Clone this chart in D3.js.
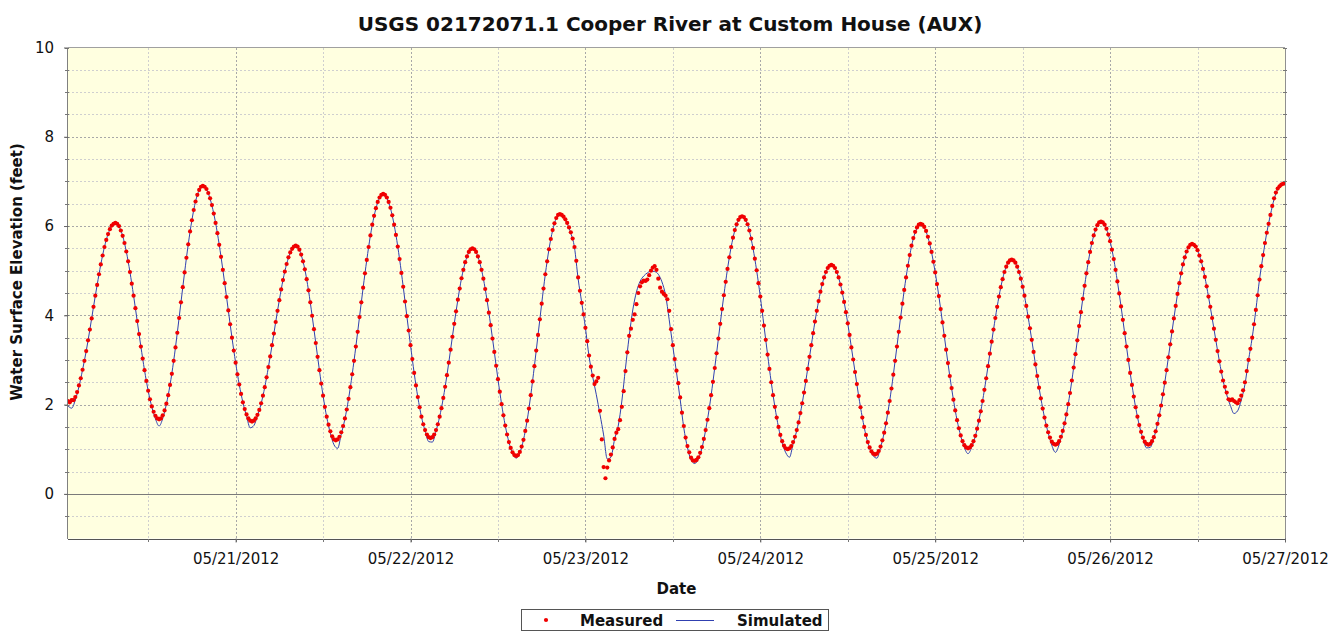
<!DOCTYPE html>
<html>

<head>
	<meta charset="UTF-8" />
	<title>USGS 02172071.1 Cooper River at Custom House (AUX)</title>
	<script src="https://d3js.org/d3.v7.min.js"></script>
	<style>
		body {
			margin: 0;
			background: #fff;
		}

		svg text {
			font-family: "DejaVu Sans", Verdana, sans-serif;
			fill: #111;
		}

		.axis text {
			font-size: 15px;
		}

		.axis line {
			stroke: #666;
		}
	</style>
</head>

<body>
	<div id="main"></div>

	<script type="text/javascript">
		// measured stage (feet), one reading every 15 minutes, first one at 05/20/2012 01:00
		var meas0520 = [2.08, 2.05, 2.10, 2.10, 2.17, 2.28, 2.43, 2.59, 2.78, 2.98,
			3.20, 3.44, 3.68, 3.93, 4.19, 4.44, 4.68, 4.92, 5.14, 5.34,
			5.53, 5.69, 5.82, 5.93, 6.01, 6.05, 6.07, 6.05, 6.00, 5.90,
			5.78, 5.62, 5.43, 5.21, 4.97, 4.71, 4.44, 4.16, 3.87, 3.58,
			3.30, 3.03, 2.77, 2.53, 2.31, 2.12, 1.96, 1.84, 1.75, 1.69,
			1.67, 1.69, 1.76, 1.87, 2.02, 2.21, 2.44, 2.69, 2.98, 3.28,
			3.61, 3.94, 4.29, 4.63, 4.96, 5.29, 5.59, 5.88, 6.13, 6.36,
			6.55, 6.70, 6.81, 6.88, 6.90, 6.88, 6.83, 6.74, 6.62, 6.47,
			6.28, 6.07, 5.84, 5.58, 5.31, 5.02, 4.72, 4.41, 4.11, 3.80,
			3.50, 3.21];
		var meas0521 = [2.94, 2.68, 2.45, 2.24, 2.05, 1.90, 1.78, 1.69, 1.64, 1.62,
			1.64, 1.69, 1.77, 1.88, 2.03, 2.20, 2.39, 2.61, 2.84, 3.08,
			3.33, 3.59, 3.85, 4.10, 4.34, 4.58, 4.79, 4.98, 5.15, 5.30,
			5.41, 5.49, 5.54, 5.56, 5.54, 5.47, 5.36, 5.21, 5.03, 4.81,
			4.56, 4.29, 3.99, 3.69, 3.38, 3.07, 2.77, 2.47, 2.20, 1.95,
			1.73, 1.55, 1.40, 1.29, 1.22, 1.20, 1.22, 1.28, 1.38, 1.52,
			1.69, 1.89, 2.13, 2.39, 2.68, 2.98, 3.30, 3.63, 3.96, 4.29,
			4.62, 4.94, 5.24, 5.53, 5.79, 6.03, 6.23, 6.40, 6.54, 6.64,
			6.70, 6.72, 6.70, 6.64, 6.54, 6.41, 6.24, 6.03, 5.80, 5.54,
			5.26, 4.95, 4.64, 4.31, 3.98, 3.66];
		var meas0522 = [3.33, 3.02, 2.71, 2.43, 2.17, 1.94, 1.73, 1.56, 1.43, 1.33,
			1.27, 1.25, 1.27, 1.33, 1.43, 1.56, 1.73, 1.92, 2.15, 2.40,
			2.66, 2.94, 3.23, 3.52, 3.81, 4.09, 4.35, 4.60, 4.83, 5.02,
			5.19, 5.32, 5.42, 5.48, 5.50, 5.48, 5.42, 5.32, 5.19, 5.02,
			4.82, 4.59, 4.34, 4.06, 3.78, 3.48, 3.18, 2.87, 2.57, 2.29,
			2.01, 1.76, 1.53, 1.33, 1.16, 1.03, 0.93, 0.87, 0.85, 0.87,
			0.94, 1.06, 1.21, 1.41, 1.64, 1.91, 2.21, 2.52, 2.86, 3.21,
			3.56, 3.91, 4.26, 4.60, 4.92, 5.21, 5.48, 5.71, 5.91, 6.06,
			6.18, 6.25, 6.27, 6.25, 6.21, 6.15, 6.07, 5.97, 5.86, 5.72,
			5.53, 5.22, 4.85, 4.55, 4.28, 4.02];
		var meas0523 = [3.72, 3.42, 3.10, 2.85, 2.65, 2.46, 2.52, 2.60, 1.86, 1.22,
			0.60, 0.35, 0.59, 0.75, 0.88, 1.04, 1.23, 1.37, 1.45, 1.65,
			1.95, 2.30, 2.75, 3.17, 3.54, 3.70, 3.90, 4.02, 4.25, 4.50,
			4.65, 4.74, 4.78, 4.77, 4.80, 4.90, 5.00, 5.07, 5.10, 5.02,
			4.82, 4.62, 4.53, 4.48, 4.44, 4.36, 4.10, 3.69, 3.33, 3.02,
			2.76, 2.48, 2.16, 1.82, 1.52, 1.26, 1.07, 0.93, 0.81, 0.75,
			0.74, 0.76, 0.82, 0.92, 1.05, 1.23, 1.43, 1.66, 1.92, 2.21,
			2.51, 2.82, 3.15, 3.48, 3.81, 4.14, 4.45, 4.75, 5.04, 5.30,
			5.53, 5.74, 5.91, 6.04, 6.14, 6.20, 6.22, 6.20, 6.14, 6.04,
			5.90, 5.72, 5.51, 5.27, 5.01, 4.72];
		var meas0524 = [4.42, 4.10, 3.77, 3.45, 3.12, 2.80, 2.50, 2.21, 1.95, 1.71,
			1.50, 1.32, 1.18, 1.08, 1.02, 1.00, 1.02, 1.07, 1.16, 1.28,
			1.43, 1.60, 1.81, 2.03, 2.27, 2.53, 2.80, 3.07, 3.33, 3.60,
			3.86, 4.10, 4.32, 4.53, 4.70, 4.85, 4.97, 5.06, 5.11, 5.13,
			5.11, 5.06, 4.97, 4.85, 4.69, 4.51, 4.30, 4.07, 3.82, 3.56,
			3.28, 3.01, 2.73, 2.46, 2.19, 1.94, 1.71, 1.50, 1.32, 1.16,
			1.04, 0.95, 0.90, 0.88, 0.90, 0.96, 1.06, 1.20, 1.37, 1.58,
			1.82, 2.08, 2.36, 2.67, 2.98, 3.30, 3.63, 3.95, 4.26, 4.57,
			4.85, 5.11, 5.35, 5.56, 5.73, 5.87, 5.97, 6.03, 6.05, 6.03,
			5.98, 5.89, 5.76, 5.61, 5.42, 5.20];
		var meas0525 = [4.96, 4.70, 4.43, 4.14, 3.84, 3.54, 3.23, 2.93, 2.64, 2.37,
			2.11, 1.87, 1.65, 1.47, 1.31, 1.18, 1.09, 1.04, 1.02, 1.04,
			1.09, 1.18, 1.30, 1.46, 1.64, 1.85, 2.08, 2.33, 2.59, 2.86,
			3.14, 3.41, 3.68, 3.94, 4.19, 4.42, 4.63, 4.81, 4.97, 5.09,
			5.18, 5.23, 5.25, 5.23, 5.18, 5.09, 4.97, 4.82, 4.64, 4.44,
			4.21, 3.97, 3.71, 3.45, 3.18, 2.90, 2.64, 2.38, 2.14, 1.91,
			1.71, 1.53, 1.38, 1.26, 1.17, 1.12, 1.10, 1.12, 1.18, 1.28,
			1.41, 1.58, 1.78, 2.01, 2.26, 2.54, 2.83, 3.13, 3.44, 3.76,
			4.07, 4.37, 4.66, 4.94, 5.19, 5.42, 5.62, 5.79, 5.92, 6.02,
			6.08, 6.10, 6.08, 6.03, 5.94, 5.81];
		var meas0526 = [5.66, 5.47, 5.26, 5.02, 4.76, 4.49, 4.20, 3.90, 3.60, 3.30,
			3.00, 2.71, 2.44, 2.18, 1.94, 1.73, 1.54, 1.39, 1.26, 1.17,
			1.12, 1.10, 1.12, 1.18, 1.27, 1.40, 1.57, 1.76, 1.98, 2.23,
			2.49, 2.77, 3.06, 3.35, 3.64, 3.93, 4.21, 4.48, 4.72, 4.94,
			5.14, 5.30, 5.43, 5.52, 5.58, 5.60, 5.58, 5.54, 5.46, 5.34,
			5.21, 5.04, 4.86, 4.65, 4.42, 4.19, 3.94, 3.70, 3.45, 3.20,
			2.97, 2.74, 2.54, 2.40, 2.27, 2.12, 2.10, 2.12, 2.08, 2.05,
			2.03, 2.10, 2.20, 2.32, 2.50, 2.75, 3.00, 3.25, 3.50, 3.80,
			4.12, 4.45, 4.80, 5.10, 5.35, 5.62, 5.85, 6.05, 6.25, 6.45,
			6.62, 6.75, 6.84, 6.89, 6.93, 6.95, 6.97];

		// simulated stage (feet), one value every 30 minutes, first one at 05/20/2012 01:00
		var sim0520 = [1.97, 1.92, 2.10, 2.40, 2.78, 3.20, 3.68, 4.19, 4.68, 5.14,
			5.53, 5.82, 6.00, 6.05, 5.99, 5.78, 5.43, 4.97, 4.44, 3.87,
			3.30, 2.77, 2.31, 1.95, 1.68, 1.52, 1.69, 2.01, 2.44, 2.98,
			3.61, 4.29, 4.96, 5.59, 6.13, 6.55, 6.80, 6.88, 6.82, 6.61,
			6.28, 5.84, 5.31, 4.72, 4.11, 3.50];
		var sim0521 = [2.94, 2.45, 2.05, 1.74, 1.48, 1.53, 1.75, 2.02, 2.39, 2.84,
			3.33, 3.85, 4.34, 4.79, 5.15, 5.40, 5.53, 5.53, 5.35, 5.03,
			4.56, 3.99, 3.38, 2.77, 2.20, 1.72, 1.36, 1.10, 1.02, 1.34,
			1.68, 2.13, 2.68, 3.30, 3.96, 4.62, 5.24, 5.79, 6.22, 6.53,
			6.69, 6.68, 6.53, 6.23, 5.80, 5.26, 4.64, 3.98];
		var sim0522 = [3.33, 2.71, 2.17, 1.73, 1.41, 1.17, 1.16, 1.41, 1.73, 2.15,
			2.66, 3.23, 3.81, 4.35, 4.83, 5.18, 5.41, 5.48, 5.41, 5.18,
			4.82, 4.34, 3.78, 3.18, 2.57, 2.01, 1.53, 1.16, 0.91, 0.80,
			0.92, 1.21, 1.64, 2.21, 2.86, 3.56, 4.26, 4.92, 5.48, 5.90,
			6.17, 6.25, 6.19, 6.05, 5.84, 5.52, 4.82, 4.28];
		var sim0523 = [3.72, 3.08, 2.62, 2.22, 1.78, 1.32, 0.78, 0.82, 1.22, 1.52,
			2.08, 2.82, 3.52, 4.12, 4.52, 4.76, 4.88, 4.95, 4.99, 4.98,
			4.92, 4.75, 4.45, 3.90, 3.30, 2.72, 2.12, 1.48, 1.04, 0.76,
			0.68, 0.78, 1.03, 1.43, 1.92, 2.51, 3.15, 3.81, 4.45, 5.04,
			5.53, 5.90, 6.13, 6.20, 6.13, 5.89, 5.50, 5.00];
		var sim0524 = [4.42, 3.77, 3.12, 2.50, 1.95, 1.49, 1.14, 0.92, 0.82, 1.12,
			1.42, 1.81, 2.27, 2.80, 3.33, 3.86, 4.32, 4.70, 4.96, 5.10,
			5.10, 4.96, 4.69, 4.30, 3.82, 3.28, 2.73, 2.19, 1.71, 1.31,
			1.02, 0.85, 0.80, 1.04, 1.37, 1.82, 2.36, 2.98, 3.63, 4.26,
			4.85, 5.34, 5.72, 5.95, 6.03, 5.96, 5.75, 5.41];
		var sim0525 = [4.96, 4.43, 3.84, 3.23, 2.64, 2.11, 1.65, 1.30, 1.04, 0.90,
			1.04, 1.29, 1.64, 2.08, 2.59, 3.14, 3.68, 4.19, 4.63, 4.97,
			5.17, 5.22, 5.17, 4.97, 4.64, 4.21, 3.71, 3.18, 2.64, 2.14,
			1.71, 1.37, 1.09, 0.93, 1.10, 1.40, 1.78, 2.26, 2.83, 3.44,
			4.07, 4.66, 5.19, 5.62, 5.91, 6.06, 6.06, 5.93];
		var sim0526 = [5.66, 5.26, 4.76, 4.20, 3.60, 3.00, 2.44, 1.94, 1.54, 1.24,
			1.03, 1.04, 1.25, 1.57, 1.98, 2.49, 3.06, 3.64, 4.21, 4.72,
			5.14, 5.42, 5.57, 5.57, 5.45, 5.21, 4.86, 4.42, 3.94, 3.45,
			2.97, 2.54, 2.22, 1.98, 1.80, 1.86, 2.10, 2.45, 3.00, 3.50,
			4.12, 4.80, 5.35, 5.85, 6.25, 6.60, 6.83, 6.92, 6.96];

		var seriesStart = '2012-05-20T01:00:00Z';
		var seriesEnd = '2012-05-27T00:00:00Z';
		var dateTicks = ['2012-05-21', '2012-05-22', '2012-05-23', '2012-05-24', '2012-05-25', '2012-05-26', '2012-05-27'];
		var elevTicks = [0, 2, 4, 6, 8, 10];

		var width = 1344, height = 633;
		// plot area edges (window.top is read-only, so no bare "top")
		var pLeft = 68, pRight = 1285, pTop = 47.5, pBottom = 538.5;

		var svg = d3.select('#main').append('svg').attr('width', width).attr('height', height);

		var t0 = new Date(seriesStart);
		var measured = [].concat(meas0520, meas0521, meas0522, meas0523, meas0524, meas0525, meas0526)
			.map(function (v, i) { return { t: d3.utcMinute.offset(t0, i * 15), v: v }; });
		var simulated = [].concat(sim0520, sim0521, sim0522, sim0523, sim0524, sim0525, sim0526)
			.map(function (v, i) { return { t: d3.utcMinute.offset(t0, i * 30), v: v }; });

		var x = d3.scaleUtc().domain([t0, new Date(seriesEnd)]).range([pLeft, pRight]);
		var y = d3.scaleLinear().domain([-1, 10]).range([pBottom, pTop]);

		// plot background
		svg.append('rect').attr('x', pLeft).attr('y', pTop)
			.attr('width', pRight - pLeft).attr('height', pBottom - pTop)
			.attr('fill', '#ffffe0');

		// grid
		var grid = svg.append('g').attr('shape-rendering', 'crispEdges');
		var halfSteps = d3.range(-0.5, 10, 0.5);
		grid.selectAll('.hgrid').data(halfSteps).enter().append('line')
			.attr('x1', pLeft).attr('x2', pRight)
			.attr('y1', d => Math.round(y(d)) + 0.5).attr('y2', d => Math.round(y(d)) + 0.5)
			.attr('stroke', d => d % 2 === 0 ? '#a8a8a8' : '#cfcfcf')
			.attr('stroke-dasharray', '2,2')
			.attr('display', d => d === 0 ? 'none' : null);
		var halfDays = d3.utcHour.every(12).range(d3.utcHour.offset(t0, 1), new Date(seriesEnd));
		grid.selectAll('.vgrid').data(halfDays).enter().append('line')
			.attr('y1', pTop).attr('y2', pBottom)
			.attr('x1', d => Math.round(x(d)) + 0.5).attr('x2', d => Math.round(x(d)) + 0.5)
			.attr('stroke', d => d.getUTCHours() === 0 ? '#a8a8a8' : '#cfcfcf')
			.attr('stroke-dasharray', '2,2');
		// zero line
		grid.append('line').attr('x1', pLeft).attr('x2', pRight)
			.attr('y1', Math.round(y(0)) + 0.5).attr('y2', Math.round(y(0)) + 0.5)
			.attr('stroke', '#7a7a7a');

		// series
		svg.append('clipPath').attr('id', 'clip').append('rect')
			.attr('x', pLeft).attr('y', pTop).attr('width', pRight - pLeft).attr('height', pBottom - pTop);
		var plot = svg.append('g').attr('clip-path', 'url(#clip)');

		var line = d3.line().x(d => x(d.t)).y(d => y(d.v)).curve(d3.curveMonotoneX);
		plot.append('path').datum(simulated)
			.attr('d', line).attr('fill', 'none')
			.attr('stroke', '#3040b0').attr('stroke-width', 1);

		plot.selectAll('circle').data(measured).enter().append('circle')
			.attr('cx', d => x(d.t)).attr('cy', d => y(d.v)).attr('r', 2.1)
			.attr('fill', '#f00000');

		// frame
		var frame = svg.append('g').attr('shape-rendering', 'crispEdges').attr('fill', 'none');
		frame.append('line').attr('x1', pLeft).attr('x2', pRight).attr('y1', pTop).attr('y2', pTop).attr('stroke', '#a0a0a0');
		frame.append('line').attr('x1', pRight + 0.5).attr('x2', pRight + 0.5).attr('y1', pTop).attr('y2', pBottom).attr('stroke', '#909090');
		frame.append('line').attr('x1', pLeft - 0.5).attr('x2', pLeft - 0.5).attr('y1', pTop).attr('y2', pBottom).attr('stroke', '#808080');
		frame.append('line').attr('x1', pLeft).attr('x2', pRight + 1).attr('y1', pBottom + 0.5).attr('y2', pBottom + 0.5).attr('stroke', '#555');

		// minor ticks
		frame.selectAll('.ytick').data(halfSteps.concat([10])).enter().append('line')
			.attr('x1', pLeft - 3).attr('x2', pLeft + 1)
			.attr('y1', d => Math.round(y(d)) + 0.5).attr('y2', d => Math.round(y(d)) + 0.5)
			.attr('stroke', '#777');
		frame.selectAll('.ytickr').data(halfSteps.concat([10])).enter().append('line')
			.attr('x1', pRight - 2).attr('x2', pRight + 2)
			.attr('y1', d => Math.round(y(d)) + 0.5).attr('y2', d => Math.round(y(d)) + 0.5)
			.attr('stroke', '#777');
		frame.selectAll('.xtick').data(halfDays).enter().append('line')
			.attr('x1', d => Math.round(x(d)) + 0.5).attr('x2', d => Math.round(x(d)) + 0.5)
			.attr('y1', pBottom).attr('y2', pBottom + 3)
			.attr('stroke', '#777');

		// axes
		var xAxis = d3.axisBottom(x)
			.tickValues(dateTicks.map(d => new Date(d + 'T00:00:00Z')))
			.tickFormat(d3.utcFormat('%m/%d/%Y'))
			.tickSize(4).tickPadding(11);
		svg.append('g').attr('class', 'axis').attr('transform', 'translate(0,' + pBottom + ')')
			.call(xAxis).call(g => g.select('.domain').remove());

		var yAxis = d3.axisLeft(y).tickValues(elevTicks).tickFormat(d3.format('d'))
			.tickSize(4).tickPadding(10);
		svg.append('g').attr('class', 'axis').attr('transform', 'translate(' + pLeft + ',0)')
			.call(yAxis).call(g => g.select('.domain').remove());
		svg.selectAll('.axis text').attr('fill', '#111');

		// titles
		svg.append('text').attr('x', 670).attr('y', 31).attr('text-anchor', 'middle')
			.attr('font-size', '20px').attr('font-weight', 'bold')
			.text('USGS 02172071.1 Cooper River at Custom House (AUX)');
		svg.append('text').attr('x', (pLeft + pRight) / 2).attr('y', 594).attr('text-anchor', 'middle')
			.attr('font-size', '15px').attr('font-weight', 'bold').text('Date');
		svg.append('text').attr('transform', 'translate(22,272) rotate(-90)').attr('text-anchor', 'middle')
			.attr('font-size', '15px').attr('font-weight', 'bold').text('Water Surface Elevation (feet)');

		// legend
		var legend = svg.append('g');
		legend.append('rect').attr('x', 521.5).attr('y', 609.5).attr('width', 307).attr('height', 21)
			.attr('fill', '#fff').attr('stroke', '#555');
		legend.append('circle').attr('cx', 546).attr('cy', 620).attr('r', 2.1).attr('fill', '#f00000');
		legend.append('text').attr('x', 580).attr('y', 625.5).attr('font-size', '15px').attr('font-weight', 'bold').text('Measured');
		legend.append('line').attr('x1', 676).attr('x2', 714).attr('y1', 620.5).attr('y2', 620.5)
			.attr('stroke', '#3040b0');
		legend.append('text').attr('x', 737).attr('y', 625.5).attr('font-size', '15px').attr('font-weight', 'bold').text('Simulated');
	</script>
</body>

</html>
